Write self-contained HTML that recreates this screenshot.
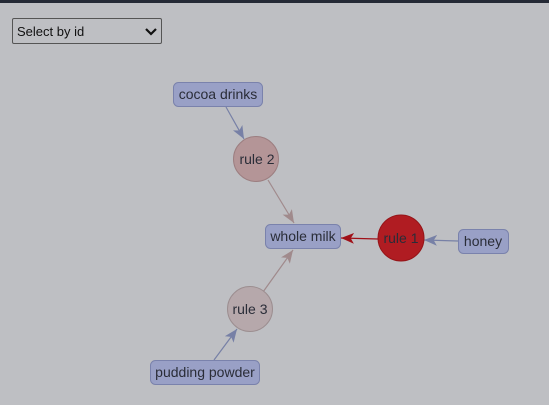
<!DOCTYPE html>
<html><head><style>
html,body{margin:0;padding:0;width:549px;height:405px;overflow:hidden;background:#bebfc3;font-family:"Liberation Sans",sans-serif;}
.top{position:absolute;left:0;top:0;width:549px;height:3px;background:#252a36;}
.sel{position:absolute;left:12px;top:18px;width:150px;height:26px;border:1px solid #555;border-radius:2px;box-sizing:border-box;font-size:13px;color:#111;padding:5px 4px;}
</style></head><body>
<div class="top"></div>
<div class="sel">Select by id<svg width="12" height="8" style="position:absolute;right:4px;top:9px"><path d="M1,1L6,6L11,1" fill="none" stroke="#111" stroke-width="2.2"/></svg></div>
<svg width="549" height="405" style="position:absolute;left:0;top:0" font-family="Liberation Sans, sans-serif" font-size="14">
<defs>
<marker id="b" viewBox="0 0 12 10" refX="12" refY="5" markerWidth="13" markerHeight="11" orient="auto" markerUnits="userSpaceOnUse"><path d="M0,0L12,5L0,10L3,5z" fill="#7780a6"/></marker>
<marker id="g" viewBox="0 0 12 10" refX="12" refY="5" markerWidth="13" markerHeight="11" orient="auto" markerUnits="userSpaceOnUse"><path d="M0,0L12,5L0,10L3,5z" fill="#a08a8c"/></marker>
<marker id="r" viewBox="0 0 12 10" refX="12" refY="5" markerWidth="13" markerHeight="11" orient="auto" markerUnits="userSpaceOnUse"><path d="M0,0L12,5L0,10L3,5z" fill="#a01018"/></marker>
</defs>
<g stroke-width="1.2">
<line x1="226" y1="107" x2="244" y2="139" stroke="#7780a6" marker-end="url(#b)"/>
<line x1="268" y1="180" x2="294" y2="223" stroke="#a08a8c" marker-end="url(#g)"/>
<line x1="263" y1="292" x2="293" y2="250" stroke="#a08a8c" marker-end="url(#g)"/>
<line x1="214" y1="360" x2="237" y2="329" stroke="#7780a6" marker-end="url(#b)"/>
<line x1="378" y1="239" x2="341" y2="238" stroke="#a01018" marker-end="url(#r)"/>
<line x1="458" y1="241" x2="424" y2="240" stroke="#7780a6" marker-end="url(#b)"/>
</g>
<g fill="#99a0c6" stroke="#7a82ac">
<rect x="173.5" y="82.5" width="89" height="24" rx="5" ry="5"/>
<rect x="265.5" y="224.5" width="75" height="24" rx="5" ry="5"/>
<rect x="458.5" y="229.5" width="50" height="24" rx="5" ry="5"/>
<rect x="150.5" y="360.5" width="109" height="24" rx="5" ry="5"/>
</g>
<circle cx="256" cy="159" r="22.5" fill="#b49597" stroke="#9c7e80"/>
<circle cx="401" cy="238" r="23" fill="#b01c22" stroke="#951418"/>
<circle cx="250" cy="309" r="22.5" fill="#b6a8ab" stroke="#9c8e90"/>
<g fill="#2a2d38" text-anchor="middle">
<text x="218" y="99">cocoa drinks</text>
<text x="303" y="241">whole milk</text>
<text x="483" y="246">honey</text>
<text x="205" y="377">pudding powder</text>
<text x="257" y="164">rule 2</text>
<text x="401" y="243">rule 1</text>
<text x="250" y="314">rule 3</text>
</g>
</svg>
</body></html>
